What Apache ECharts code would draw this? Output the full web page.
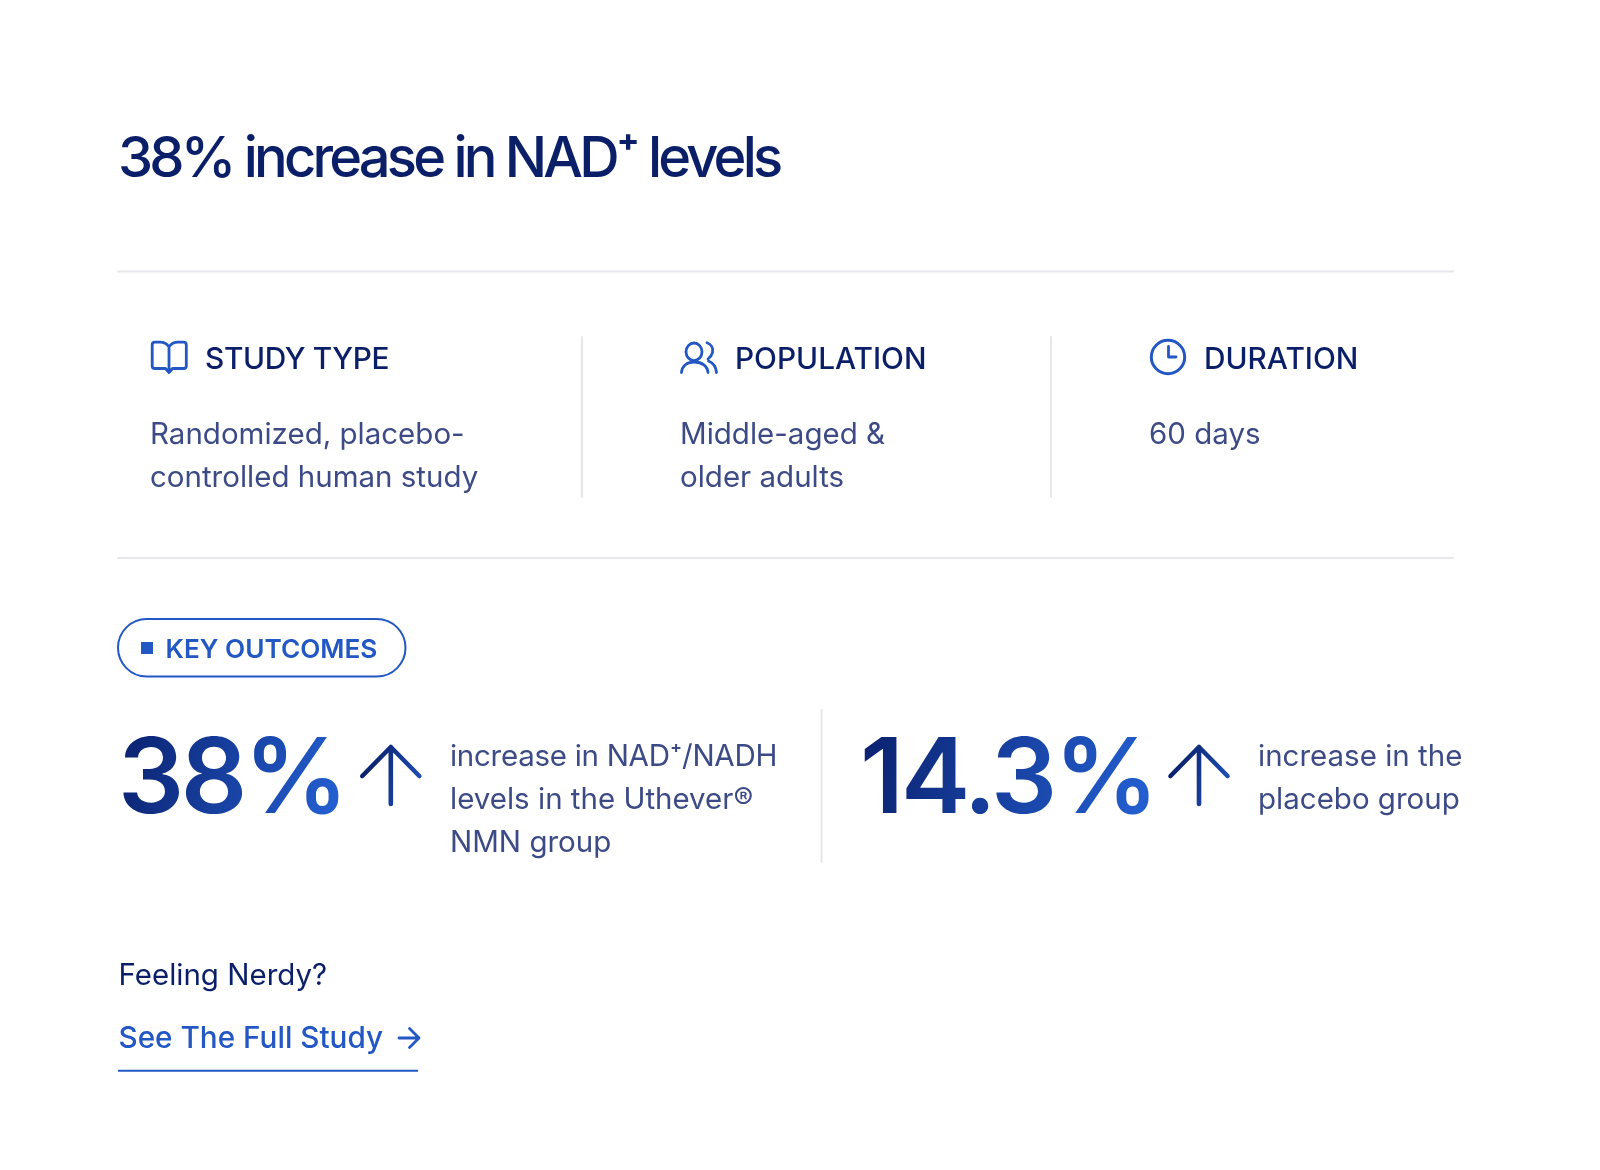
<!DOCTYPE html>
<html><head><meta charset="utf-8">
<style>html,body{margin:0;padding:0;background:#fff}#c{width:1600px;height:1170px}</style>
<script src="https://cdn.jsdelivr.net/npm/echarts@6/dist/echarts.min.js"></script>
</head><body><div id="c"></div>
<script>
const headline = '38% increase in NAD⁺ levels';
const studyLabels = ['STUDY TYPE', 'POPULATION', 'DURATION'];
const studyDetails = [['Randomized, placebo-', 'controlled human study'], ['Middle-aged &', 'older adults'], ['60 days']];
const badgeLabel = 'KEY OUTCOMES';
const outcomeValues = ['38%', '14.3%'];
const outcomeNotes = [['increase in NAD⁺/NADH', 'levels in the Uthever®', 'NMN group'], ['increase in the', 'placebo group']];
const footerPrompt = 'Feeling Nerdy?';
const footerLink = 'See The Full Study';

const NAVY = '#0a1f68', BODY = '#3c4a86', BLUE = '#2357c3', RULE = '#e6e7ea';
const FAMILY = 'Inter';

// zrender has no letter-spacing or text-gradient option on canvas, so apply both at draw time.
const tracking = {[headline]: -3.8, [outcomeValues[0]]: -3.4, [outcomeValues[1]]: -3.1, [outcomeNotes[0][0]]: -0.28, [studyLabels[0]]: -0.35};
const gradients = {};
const origFill = CanvasRenderingContext2D.prototype.fillText;
CanvasRenderingContext2D.prototype.fillText = function (t, x, y) {
  this.letterSpacing = (tracking[t] || 0) + 'px';
  const prev = this.fillStyle;
  if (gradients[t]) this.fillStyle = gradients[t];
  origFill.call(this, t, x, y);
  this.fillStyle = prev;
  this.letterSpacing = '0px';
};
const gctx = document.createElement('canvas').getContext('2d');
function textGrad(x0, y0, x1, y1) {
  const g = gctx.createLinearGradient(x0, y0, x1, y1);
  g.addColorStop(0, '#0b2270'); g.addColorStop(1, '#2460d2');
  return g;
}
function T(text, x, base, size, weight, fill) {
  return {type: 'text', x: x, y: base - 0.3635 * size, silent: true,
    style: {text: text, fontFamily: FAMILY, fontSize: size, fontWeight: weight, fill: fill, align: 'left', verticalAlign: 'middle'}};
}
function L(x1, y1, x2, y2, c, w) {
  return {type: 'line', silent: true, shape: {x1, y1, x2, y2}, style: {stroke: c, lineWidth: w || 2, lineCap: 'round'}};
}
let shapeId = 0;
function P(d, c, w) {
  const name = 'svgShape' + (shapeId++);
  echarts.graphic.registerShape(name, echarts.graphic.extendPath(d));
  return {type: name, silent: true, style: {fill: 'none', stroke: c, lineWidth: w, lineCap: 'round', lineJoin: 'round'}};
}
const els = [];
els.push(T(headline, 118, 180.5, 56, 500, NAVY));
els.push(L(118, 271.5, 1453, 271.5, RULE, 2), L(118, 558, 1453, 558, RULE, 2));
els.push(L(582, 337, 582, 497, RULE, 2), L(1051, 337, 1051, 497, RULE, 2));

const labelX = [205, 735, 1204], detailX = [150, 680, 1149];
studyLabels.forEach((s, i) => {
  els.push(T(s, labelX[i], 370.5, 29.8, 500, NAVY));
  studyDetails[i].forEach((d, j) => els.push(T(d, detailX[i], 445.5 + j * 43.4, 29.5, 400, BODY)));
});
// icons
els.push(P('M169 347C167 344 163 342.2 160 342.2H155Q152.2 342.2 152.2 345V366Q152.2 368.5 155 368.5H165.5L169 372.5L172.5 368.5H183.5Q186.3 368.5 186.3 366V345Q186.3 342.2 183.5 342.2H178C175 342.2 171 344 169 347ZM169 347V369', BLUE, 2.8));
els.push(P('M694 343a8 8.8 0 1 0 0.01 0ZM681.5 372.5C682 366 687 362 694.5 362C702 362 707.5 366 708 372.5M707 342.8C711.5 344.5 713.5 348.5 712.5 352.5C711.8 355.5 710 357.5 708 359M708.5 361C713.5 363 716 367 716.5 372.5', BLUE, 2.8));
els.push({type: 'circle', silent: true, shape: {cx: 1168, cy: 357, r: 16.7}, style: {fill: 'none', stroke: BLUE, lineWidth: 3}});
els.push(P('M1168.5 346.5V357H1176', BLUE, 2.8));

// badge
els.push({type: 'rect', silent: true, shape: {x: 118, y: 619, width: 287.5, height: 57.5, r: 28.7}, style: {fill: 'none', stroke: BLUE, lineWidth: 2}});
els.push({type: 'rect', silent: true, shape: {x: 141, y: 642, width: 12, height: 12}, style: {fill: BLUE}});
els.push(T(badgeLabel, 165.5, 659.5, 26.2, 600, BLUE));

// outcomes
const valueX = [118, 860], valueWidth = [220, 290], arrowX = [390.8, 1199], noteX = [450, 1258];
const arrowGrad = (c) => ({type: 'linear', global: true, x: c - 30, y: 770, x2: c + 30, y2: 790,
  colorStops: [{offset: 0, color: '#0a1f68'}, {offset: 1, color: '#1f50b8'}]});
outcomeValues.forEach((v, i) => {
  // canvas is translated to the text origin when drawing, so gradient coordinates are local
  gradients[v] = textGrad(0, -30, valueWidth[i], 30);
  els.push(T(v, valueX[i], 820, 104, 600, BLUE));
  const c = arrowX[i];
  els.push(P(`M${c} 747V804M${c - 28.5} 776L${c} 747L${c + 28.5} 776`, arrowGrad(c), 4.6));
  outcomeNotes[i].forEach((n, j) => els.push(T(n, noteX[i], 767.5 + j * 43.3, 29.5, 400, BODY)));
});
els.push(L(821.5, 710, 821.5, 862, RULE, 2));

// footer
els.push(T(footerPrompt, 118.5, 987, 29.5, 400, NAVY));
els.push(T(footerLink, 118.5, 1049.7, 29.7, 500, BLUE));
els.push(P('M399 1038H419M409.5 1028.5L419 1038L409.5 1047.5', BLUE, 2.8));
els.push({type: 'line', silent: true, shape: {x1: 118, y1: 1070.7, x2: 418, y2: 1070.7}, style: {stroke: BLUE, lineWidth: 2}});

const chart = echarts.init(document.getElementById('c'), null, {renderer: 'canvas'});
chart.setOption({animation: false, backgroundColor: '#ffffff', graphic: {elements: els}});
</script></body></html>
